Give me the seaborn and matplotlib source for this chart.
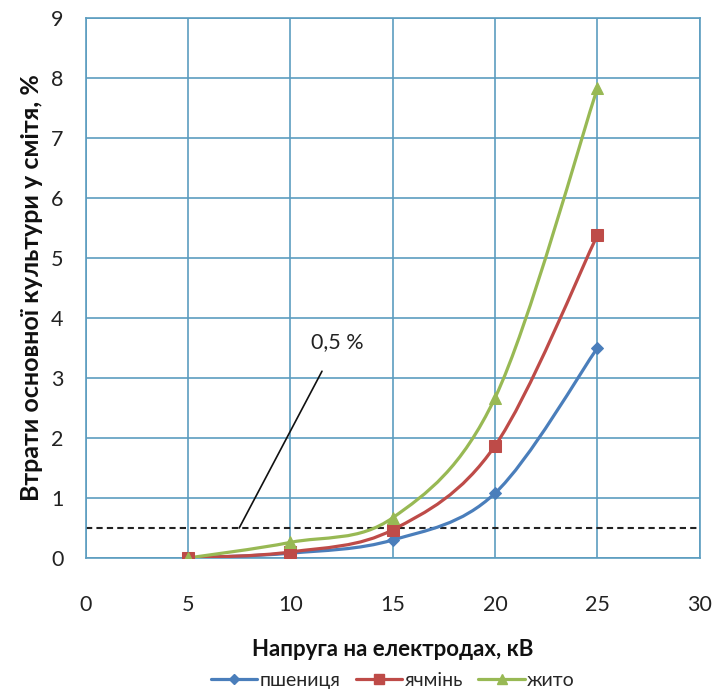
import matplotlib
matplotlib.use("Agg")
import numpy as np
import matplotlib.pyplot as plt
from matplotlib.path import Path
from matplotlib.patches import PathPatch
from matplotlib.lines import Line2D
import seaborn as sns

# Data
voltage_kv = [5, 10, 15, 20, 25]
wheat = [0.0, 0.08, 0.3, 1.08, 3.5]
barley = [0.0, 0.1, 0.47, 1.87, 5.38]
rye = [0.0, 0.26, 0.67, 2.67, 7.83]
series_names = ["пшениця", "ячмінь", "жито"]
threshold = 0.5
x_ticks = [0, 5, 10, 15, 20, 25, 30]
y_ticks = list(range(0, 10))

COLORS = ["#4A7EBB", "#BE4B48", "#98B954"]
MARKERS = ["D", "s", "^"]
MARKER_SIZES = [6, 8, 8]
GRID_COLOR = "#5C9DC0"

sns.set_theme(style="white")
plt.rcParams["font.family"] = ["Lato", "DejaVu Sans"]


def smooth_path(xs, ys):
    """Excel-style smoothed line: cubic Bezier through each point."""
    pts = np.column_stack([xs, ys]).astype(float)
    n = len(pts)
    verts = [pts[0]]
    codes = [Path.MOVETO]
    for i in range(n - 1):
        p_prev = pts[i - 1] if i > 0 else pts[i]
        p_next2 = pts[i + 2] if i + 2 < n else pts[i + 1]
        c1 = pts[i] + (pts[i + 1] - p_prev) / 6
        c2 = pts[i + 1] - (p_next2 - pts[i]) / 6
        verts += [c1, c2, pts[i + 1]]
        codes += [Path.CURVE4] * 3
    return Path(verts, codes)


fig = plt.figure(figsize=(7.14, 6.91), dpi=100)
ax = fig.add_axes([0.120, 0.1925, 0.860, 0.7815])

all_series = [wheat, barley, rye]
for vals, color, marker, ms in zip(all_series, COLORS, MARKERS, MARKER_SIZES):
    ax.add_patch(PathPatch(smooth_path(voltage_kv, vals), facecolor="none",
                           edgecolor=color, lw=2.3, zorder=3))
    sns.lineplot(x=voltage_kv, y=vals, ax=ax, marker=marker, markersize=ms,
                 color=color, linestyle="", markeredgecolor=color, zorder=4)

# 0,5 % threshold line
ax.axhline(threshold, color="#222222", lw=1.5, ls=(0, (3, 2)), zorder=2)
ax.annotate("0,5 %", xy=(7.5, threshold), xytext=(12.3, 3.6),
            ha="center", va="center", fontsize=15.5, color="#222222",
            arrowprops=dict(arrowstyle="-", color="#111111", lw=1.2,
                            shrinkA=13, shrinkB=0))

ax.set_xlim(0, 30)
ax.set_ylim(0, 9)
ax.set_xticks(x_ticks)
ax.set_yticks(y_ticks)
ax.grid(True, color=GRID_COLOR, lw=1.2)
ax.set_axisbelow(True)
for sp in ax.spines.values():
    sp.set_color(GRID_COLOR)
    sp.set_linewidth(1.2)
ax.tick_params(axis="x", length=0, pad=27, labelsize=15.5, colors="#222222")
ax.tick_params(axis="y", length=0, pad=16, labelsize=15.5, colors="#222222")

ax.set_xlabel("Напруга на електродах, кВ", fontsize=16, fontweight="bold",
              labelpad=17, color="#111111")
ax.set_ylabel("Втрати основної культури у смітя, %", fontsize=18,
              fontweight="bold", labelpad=6, color="#111111")

handles = [Line2D([0], [0], color=c, marker=m, markersize=s * 0.9, lw=2.3,
                  markeredgecolor=c)
           for c, m, s in zip(COLORS, MARKERS, MARKER_SIZES)]
ax.legend(handles, series_names, loc="center", bbox_to_anchor=(0.5, -0.226),
          ncol=3, frameon=False, fontsize=14, handlelength=2.4,
          handletextpad=0.1, columnspacing=0.8)

fig.savefig("out.png", dpi=100)
